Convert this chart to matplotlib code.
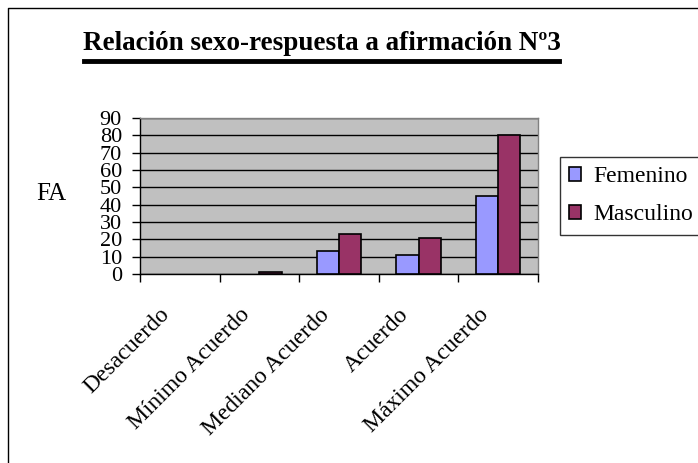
import matplotlib
matplotlib.use('Agg')
import matplotlib.pyplot as plt
import matplotlib.transforms as mtransforms
from matplotlib.lines import Line2D
import numpy as np

# --- data ---
categorias = ["Desacuerdo", "Mínimo Acuerdo", "Mediano Acuerdo", "Acuerdo", "Máximo Acuerdo"]
femenino = [0, 0, 13, 11, 45]
masculino = [0, 1, 23, 21, 80]
y_ticks = list(range(0, 91, 10))

titulo = "Relación sexo-respuesta a afirmación Nº3"

# --- style ---
FEM_COLOR = "#9999FF"
MASC_COLOR = "#993366"
PLOT_BG = "#C0C0C0"
SERIF = ["Liberation Serif", "DejaVu Serif"]

plt.rcParams['font.family'] = SERIF

fig = plt.figure(figsize=(6.98, 4.63), dpi=100)
W, H = 698, 463
ax = fig.add_axes([140 / W, 1 - 274 / H, 398 / W, 156 / H])
ax.set_facecolor(PLOT_BG)

x = np.arange(len(categorias))
bw = 0.28
series = []
for vals, off_x, col, lab in [(femenino, -bw / 2, FEM_COLOR, "Femenino"),
                              (masculino, bw / 2, MASC_COLOR, "Masculino")]:
    bars = ax.bar(x + off_x, vals, bw, color=col, edgecolor="black", linewidth=1.2,
                  label=lab, zorder=3)
    series.append((bars, vals))

ax.set_xlim(-0.5, len(categorias) - 0.5)
ax.set_ylim(0, 90)
ax.set_yticks(y_ticks)
ax.set_yticklabels([str(v) for v in y_ticks], fontsize=16)
ax.tick_params(axis='y', length=6, width=1, pad=7, direction='out')
ax.yaxis.grid(True, color="black", linewidth=1)
ax.set_axisbelow(True)

# category boundaries as major ticks, names as minor ticks
ax.set_xticks(np.arange(-0.5, len(categorias), 1.0))
ax.set_xticklabels([])
ax.tick_params(axis='x', which='major', length=6, width=1, direction='out')
ax.set_xticks(x, minor=True)
ax.set_xticklabels(categorias, minor=True, fontsize=17, rotation=45,
                   ha='right', va='center', rotation_mode='anchor')
ax.tick_params(axis='x', which='minor', length=0, pad=27)
off = mtransforms.ScaledTranslation(-13 / 100, 0, fig.dpi_scale_trans)
for lab in ax.get_xticklabels(minor=True):
    lab.set_transform(lab.get_transform() + off)

for s in ["top", "right"]:
    ax.spines[s].set_color("#808080")
    ax.spines[s].set_linewidth(1)
for s in ["left", "bottom"]:
    ax.spines[s].set_color("black")
    ax.spines[s].set_linewidth(1)

fig.text(51 / W, 1 - 194 / H, "FA", fontsize=18, ha='center', va='center')

leg = fig.legend(loc='center left', bbox_to_anchor=(560 / W, 1 - 196 / H),
                 fontsize=17, frameon=True, fancybox=False, edgecolor="black",
                 handlelength=0.5, handleheight=0.5, handletextpad=0.5,
                 borderpad=0.4, labelspacing=0.72, borderaxespad=0)
leg.get_frame().set_linewidth(1)

# zero-height bars leave no outline, as in the original (after legend so handles keep edges)
for bars, vals in series:
    for b, v in zip(bars, vals):
        if v == 0:
            b.set_linewidth(0)

fig.text(322 / W, 1 - 44 / H, titulo, fontsize=19.5, fontweight='bold',
         ha='center', va='center')

# title underline
fig.add_artist(Line2D([84, 559], [H - 61, H - 61], color="black", linewidth=3.5,
                      transform=None))

# chart area border (left and top visible)
fig.add_artist(Line2D([8 / W, 8 / W, 1.0], [0, 1 - 8 / H, 1 - 8 / H], color="black",
                      linewidth=1, transform=fig.transFigure))

fig.savefig("out.png", dpi=100, facecolor="white")
